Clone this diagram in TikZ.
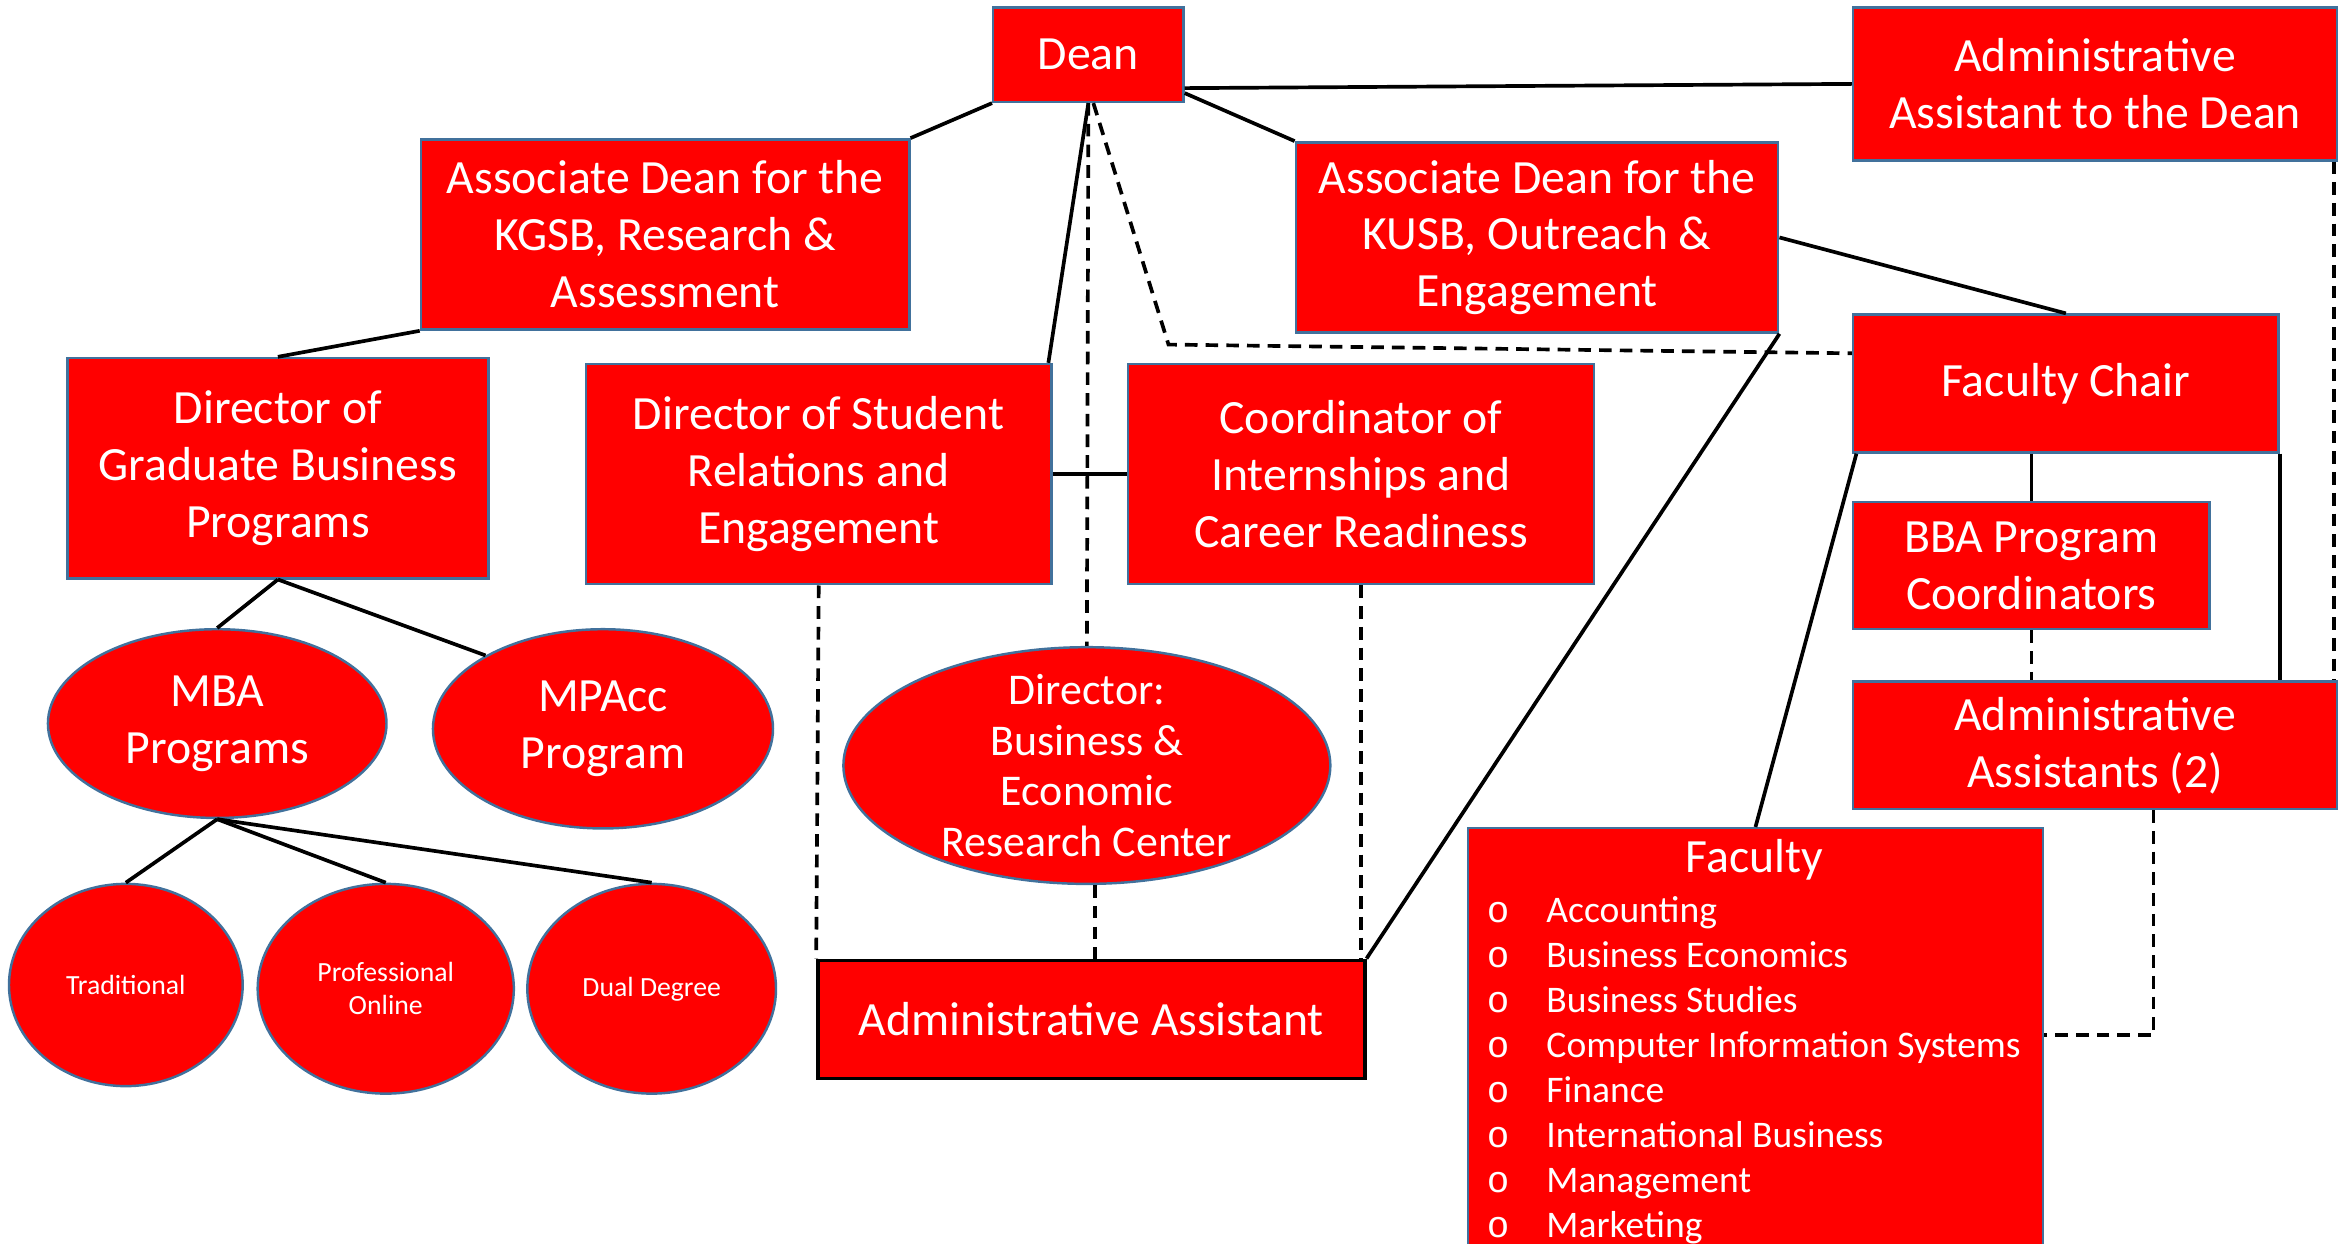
\documentclass[tikz,border=0pt]{standalone}
\usepackage{fontspec}
\setmainfont{Carlito}
\newfontfamily\bulletfont{Liberation Mono}
\usetikzlibrary{positioning,shapes.geometric}

\definecolor{chartred}{HTML}{FF0000}
\definecolor{edgeblue}{HTML}{41719C}

\begin{document}
\begin{tikzpicture}[x=0.15mm, y=-0.15mm,
        every node/.style={text=white, align=center, inner sep=0pt, font=\fontsize{13.6}{16.2}\selectfont},
        box/.style={rectangle, fill=chartred, draw=edgeblue, line width=0.7pt},
        oval/.style={ellipse, fill=chartred, draw=edgeblue, line width=0.7pt},
        sz/.style 2 args={minimum width=#1*0.15mm, minimum height=#2*0.15mm},
        small/.style={font=\fontsize{7.9}{9.4}\selectfont},
        tie/.style={line width=1.05pt},
        dottie/.style={line width=1.05pt, dash pattern=on 3.6pt off 2.3pt}
    ]
        \useasboundingbox (0,0) rectangle (1568,830);

        % Dean and the top row
        \node[box, sz={127}{63}] (dean) at (726.5,36.5) {Dean};
        \node[box, sz={323}{102}] (aadean) at (1398.5,56) {Administrative\\Assistant to the Dean};
        \node[box, sz={326}{127}] (adkgsb) at (444,156.5) {Associate Dean for the\\KGSB, Research \&\\Assessment};
        \node[box, sz={322}{127}] (adkusb) at (1026,158.5) {Associate Dean for the\\KUSB, Outreach \&\\Engagement};

        % Directors
        \node[box, sz={281}{147}] (dirgrad) at (185.5,312.5) {Director of\\Graduate Business\\Programs};
        \node[box, sz={311}{147}] (dirsr) at (546.5,316.5) {Director of Student\\Relations and\\Engagement};
        \node[box, sz={311}{147}] (coord) at (908.5,316.5) {Coordinator of\\Internships and\\Career Readiness};

        % Faculty side
        \node[box, sz={284}{92}] (chair) at (1379,256) {Faculty Chair};
        \node[box, sz={238}{85}] (bba) at (1356,377.5) {BBA Program\\Coordinators};
        \node[box, sz={323}{85}] (aas) at (1398.5,497.5) {Administrative\\Assistants (2)};
        \node[box, sz={384}{300}, anchor=north west] (fac) at (979,552) {};
        \node (factitle) at (1171,574) {Faculty};
        \node[anchor=north west, align=left, font=\fontsize{10.7}{12.8}\selectfont] (faclist) at (992,598) {%
            \makebox[17pt][l]{\bulletfont o}Accounting\\
            \makebox[17pt][l]{\bulletfont o}Business Economics\\
            \makebox[17pt][l]{\bulletfont o}Business Studies\\
            \makebox[17pt][l]{\bulletfont o}Computer Information Systems\\
            \makebox[17pt][l]{\bulletfont o}Finance\\
            \makebox[17pt][l]{\bulletfont o}International Business\\
            \makebox[17pt][l]{\bulletfont o}Management\\
            \makebox[17pt][l]{\bulletfont o}Marketing};

        % Administrative assistant
        \node[box, draw=black, line width=1pt, sz={365}{79}] (aa) at (728.5,680.5) {Administrative Assistant};

        % Programs
        \node[oval, sz={226}{126}] (mba) at (145,483) {MBA\\Programs};
        \node[oval, sz={227}{133}] (mpacc) at (402.5,486.5) {MPAcc\\Program};
        \node[oval, sz={325}{158}] (berc) at (725.5,511) {};
        \node[font=\fontsize{12.5}{14.5}\selectfont] (berctext) at (berc) {Director:\\Business \&\\Economic\\Research Center};
        \node[oval, small, sz={156}{135}] (trad) at (84,657.5) {Traditional};
        \node[oval, small, sz={171}{140}] (prof) at (257.5,660) {Professional\\Online};
        \node[oval, small, sz={166}{140}] (dual) at (435,660) {Dual Degree};

        % Solid lines
        \draw[tie] (dean.south west) -- (adkgsb.north east);
        \draw[tie] ([yshift=1.5mm]dean.south east) -- (aadean.west);
        \draw[tie] ([yshift=1mm]dean.south east) -- (adkusb.north west);
        \draw[tie] (dean.south) -- ([xshift=-0.45mm]dirsr.north east);
        \draw[tie] (adkgsb.south west) -- (dirgrad.north);
        \draw[tie] (dirgrad.south) -- (mba.north);
        \draw[tie] (dirgrad.south) -- (mpacc.148);
        \draw[tie] (mba.south) -- (trad.north);
        \draw[tie] (mba.south) -- (prof.north);
        \draw[tie] (mba.south) -- (dual.north);
        \draw[tie] (dirsr.east) -- (coord.west);
        \draw[tie] (adkusb.east) -- (chair.north);
        \draw[tie] (adkusb.south east) -- (aa.north east);
        \draw[tie] ([xshift=0.45mm]chair.south west) -- (fac.north);
        \draw[tie] (bba.north |- chair.south) -- (bba.north);
        \draw[tie] (chair.south east) -- (chair.south east |- aas.north);

        % Dashed lines
        \coordinate (bend) at (780,230);
        \coordinate (facport) at ([yshift=-20.85mm]fac.north east);
        \draw[dottie] (dean.south) -- (berc.north);
        \draw[dottie] ([xshift=0.5mm]dean.south) -- (bend) -- ([yshift=-4mm]chair.north west);
        \draw[dottie] (dirsr.south) -- (aa.north west);
        \draw[dottie] (coord.south) -- (coord.south |- aa.north);
        \draw[dottie] ([xshift=0.8mm]berc.south) -- ([xshift=0.8mm]berc.south |- aa.north);
        \draw[dottie] ([xshift=-0.45mm]aadean.south east) -- ([xshift=-0.45mm]aas.north east);
        \draw[dottie] (bba.south) -- (aas.north -| bba.south);
        \draw[dottie] ([xshift=5.85mm]aas.south) |- (facport);
    \end{tikzpicture}
\end{document}
